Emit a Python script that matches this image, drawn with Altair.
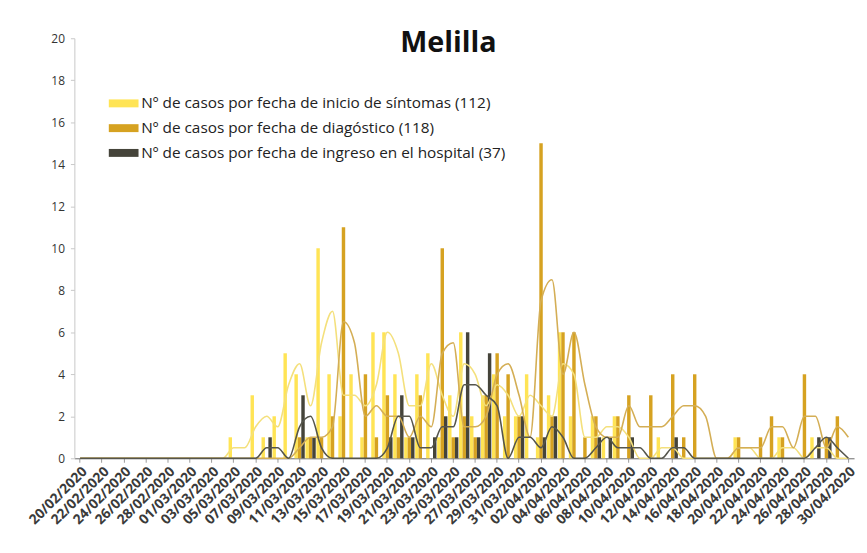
import altair as alt
import pandas as pd

# Categories: one per day, 20/02/2020 .. 30/04/2020
fechas = [d.strftime("%d/%m/%Y") for d in pd.date_range("2020-02-20", "2020-04-30", freq="D")]
etiquetas = fechas[::2]

S_NAME = "Nº de casos por fecha de inicio de síntomas (112)"
D_NAME = "Nº de casos por fecha de diagóstico (118)"
H_NAME = "Nº de casos por fecha de ingreso en el hospital (37)"
series_order = [S_NAME, D_NAME, H_NAME]

sintomas = [
    0, 0, 0, 0, 0, 0, 0, 0, 0, 0,
    0, 0, 0, 0, 1, 0, 3, 1, 2, 5,
    4, 1, 10, 4, 2, 4, 1, 6, 6, 4,
    1, 4, 5, 1, 3, 6, 2, 3, 4, 2,
    2, 4, 1, 3, 6, 2, 0, 2, 1, 2,
    0, 0, 0, 1, 0, 0, 0, 0, 0, 0,
    1, 0, 0, 0, 1, 0, 0, 1, 0, 0,
    0,
]
diagnostico = [
    0, 0, 0, 0, 0, 0, 0, 0, 0, 0,
    0, 0, 0, 0, 0, 0, 0, 0, 0, 0,
    1, 1, 1, 2, 11, 0, 4, 1, 3, 1,
    1, 3, 0, 10, 1, 2, 1, 3, 5, 4,
    2, 0, 15, 2, 6, 6, 1, 2, 0, 2,
    3, 0, 3, 0, 4, 1, 4, 0, 0, 0,
    1, 0, 1, 2, 1, 0, 4, 0, 1, 2,
    0,
]
hospital = [
    0, 0, 0, 0, 0, 0, 0, 0, 0, 0,
    0, 0, 0, 0, 0, 0, 0, 1, 0, 0,
    3, 1, 0, 0, 0, 0, 0, 0, 1, 3,
    1, 0, 1, 2, 1, 6, 1, 5, 0, 0,
    2, 0, 1, 2, 0, 0, 0, 1, 1, 0,
    1, 0, 0, 0, 1, 0, 0, 0, 0, 0,
    0, 0, 0, 0, 0, 0, 0, 1, 1, 0,
    0,
]

bar_colors = ["#FFE455", "#D6A221", "#45443A"]
line_colors = ["#F4E07C", "#D4AE55", "#55554C"]

rows = []
for name, vals in zip(series_order, [sintomas, diagnostico, hospital]):
    for i, (f, v) in enumerate(zip(fechas, vals)):
        rows.append({"fecha": f, "orden": i, "serie": name, "valor": v})
df = pd.DataFrame(rows)

FONT = "Open Sans"

x_enc = alt.X(
    "fecha:N",
    sort=fechas,
    title=None,
    scale=alt.Scale(paddingInner=0.06, paddingOuter=0.05),
    axis=alt.Axis(
        values=etiquetas,
        labelAngle=315,
        labelFont=FONT,
        labelFontSize=14,
        labelFontWeight="bold",
        labelColor="#3a3a3a",
        labelPadding=2,
        domainColor="#6a6a6a",
        tickColor="#9a9a9a",
        tickSize=4,
        labelOverlap=False,
    ),
)

y_scale = alt.Scale(domain=[0, 20], nice=False)

bars = alt.Chart(df).mark_bar().encode(
    x=x_enc,
    xOffset=alt.XOffset("serie:N", sort=series_order, scale=alt.Scale(domain=series_order, paddingInner=0)),
    y=alt.Y(
        "valor:Q",
        scale=y_scale,
        title=None,
        axis=alt.Axis(
            values=list(range(0, 21, 2)),
            labelFont=FONT,
            labelFontSize=12,
            labelColor="#333333",
            domainColor="#c8c8c8",
            tickColor="#c8c8c8",
            tickSize=4,
            labelPadding=6,
            grid=False,
        ),
    ),
    color=alt.Color(
        "serie:N",
        sort=series_order,
        scale=alt.Scale(domain=series_order, range=bar_colors),
        legend=alt.Legend(
            title=None,
            orient="none",
            legendX=42,
            legendY=58,
            symbolType="M-3,-0.8H3V0.8H-3Z",
            symbolSize=100,
            symbolStrokeWidth=0,
            labelFont=FONT,
            labelFontSize=15.5,
            labelColor="#222222",
            labelLimit=600,
            rowPadding=8,
            labelOffset=10,
        ),
    ),
)

lines = []
for name, col in zip(series_order, line_colors):
    lines.append(
        alt.Chart(df)
        .transform_filter(alt.datum.serie == name)
        .transform_window(ma="mean(valor)", frame=[-1, 0], sort=[alt.SortField("orden")])
        .mark_line(color=col, strokeWidth=1.6, interpolate="monotone")
        .encode(x=x_enc, y=alt.Y("ma:Q", scale=y_scale, title=None))
    )

chart = (
    alt.layer(bars, *lines)
    .properties(
        width=787,
        height=424,
        title=alt.TitleParams(
            "Melilla", font=FONT, fontSize=29, fontWeight="bold", color="#111111",
            anchor="middle", offset=-26, dx=-16,
        ),
        autosize=alt.AutoSizeParams(type="none"),
        padding={"left": 67, "top": 28, "right": 5, "bottom": 85},
    )
    .configure_view(stroke=None)
)

chart.save("out.html", embed_options={"renderer": "svg", "actions": False})
